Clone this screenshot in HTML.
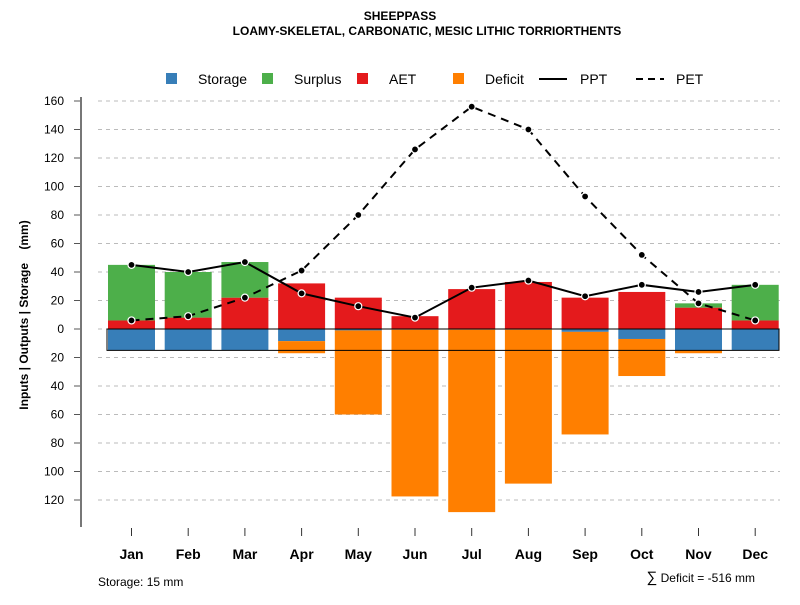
<!DOCTYPE html>
<html><head><meta charset="utf-8"><style>
body{margin:0;background:#fff;font-family:"Liberation Sans",sans-serif}
</style></head><body>
<svg id="c" width="800" height="600" xmlns="http://www.w3.org/2000/svg" font-family="Liberation Sans, sans-serif">
<text x="400" y="20" text-anchor="middle" font-size="12" font-weight="bold">SHEEPPASS</text>
<text x="427" y="35" text-anchor="middle" font-size="12" font-weight="bold">LOAMY-SKELETAL, CARBONATIC, MESIC LITHIC TORRIORTHENTS</text>
<g font-size="14">
<rect x="166" y="73" width="11" height="11" fill="#377EB8"/><text x="198" y="84">Storage</text>
<rect x="262" y="73" width="11" height="11" fill="#4DAF4A"/><text x="294" y="84">Surplus</text>
<rect x="357" y="73" width="11" height="11" fill="#E41A1C"/><text x="389" y="84">AET</text>
<rect x="453" y="73" width="11" height="11" fill="#FF7F00"/><text x="485" y="84">Deficit</text>
<line x1="539" y1="79" x2="567" y2="79" stroke="#000" stroke-width="2"/><text x="580" y="84">PPT</text>
<line x1="636" y1="79" x2="664" y2="79" stroke="#000" stroke-width="2" stroke-dasharray="7,5"/><text x="676" y="84">PET</text>
</g>
<g id="grid"></g><g id="bars"></g><g id="lines"></g><g id="axes"></g>
<text transform="translate(28,315) rotate(-90)" text-anchor="middle" font-size="12" font-weight="bold">Inputs | Outputs | Storage&#160;&#160;&#160;&#160;(mm)</text>
<text x="98" y="586" font-size="12">Storage: 15 mm</text>
<text x="755" y="582" text-anchor="end" font-size="12"><tspan font-size="15">∑</tspan> Deficit = -516 mm</text>
</svg>
<script>
const months=["Jan","Feb","Mar","Apr","May","Jun","Jul","Aug","Sep","Oct","Nov","Dec"];
const aet=[6,8,22,32,22,9,28,33,22,26,15,6];
const surplus=[39,32,25,0,0,0,0,0,0,0,3,25];
const storage=[15,15,15,8.5,1,0.5,0.5,0.5,2,7,15,15];
const deficit=[0,0,0,8.5,59,117,128,108,72,26,2,0];
const ppt=[45,40,47,25,16,8,29,34,23,31,26,31];
const pet=[6,9,22,41,80,126,156,140,93,52,18,6];
const yTicks=[160,140,120,100,80,60,40,20,0,-20,-40,-60,-80,-100,-120];
const NS="http://www.w3.org/2000/svg";
const y=v=>329-v*1.425, x=i=>131.5+i*56.7, bw=47;
function mk(p,t,a){const e=document.createElementNS(NS,t);for(const k in a)e.setAttribute(k,a[k]);document.getElementById(p).appendChild(e);return e;}
yTicks.forEach(t=>{
 const g=mk('grid','line',{x1:98,x2:780,y1:y(t),y2:y(t),stroke:'#bbb','stroke-dasharray':'4,4'});
 
 
 const k=mk('axes','line',{x1:74,x2:81,y1:y(t),y2:y(t),stroke:'#555'});
 
 
 const l=mk('axes','text',{x:64,y:y(t)+4,'text-anchor':'end','font-size':12});
 l.textContent=Math.abs(t);
 
 
});
const ax=mk('axes','line',{x1:81,x2:81,y1:y(160)-4,y2:527,stroke:'#777','stroke-width':2});


months.forEach((m,i)=>{
 const cx=x(i),l=cx-bw/2;
 const s=mk('bars','rect',{x:l,y:y(0),width:bw,height:storage[i]*1.425,fill:'#377EB8'});
 
 
 const d=mk('bars','rect',{x:l,y:y(-storage[i]),width:bw,height:deficit[i]*1.425,fill:'#FF7F00'});
 
 
 const a=mk('bars','rect',{x:l,y:y(aet[i]),width:bw,height:aet[i]*1.425,fill:'#E41A1C'});
 
 
 const su=mk('bars','rect',{x:l,y:y(aet[i]+surplus[i]),width:bw,height:surplus[i]*1.425,fill:'#4DAF4A'});
 
 
 const tk=mk('axes','line',{x1:cx,x2:cx,y1:528,y2:536,stroke:'#333'});
 
 
 const tl=mk('axes','text',{x:cx,y:559,'text-anchor':'middle','font-size':14,'font-weight':'bold'});
 tl.textContent=m;
 
 
});
const fr=mk('bars','rect',{x:107,y:y(0),width:672,height:15*1.425,fill:'none',stroke:'#000','stroke-width':1});


function series(vals,dash,name){
 const p=mk('lines','polyline',{points:vals.map((v,i)=>x(i)+','+y(v)).join(' '),fill:'none',stroke:'#000','stroke-width':2,'stroke-dasharray':dash});
 
 
 vals.forEach((v,i)=>{
  const c=mk('lines','circle',{cx:x(i),cy:y(v),r:3.5,fill:'#000',stroke:'#fff','stroke-width':1.2});
  
  
 });
}
series(pet,'8,6','pet');
series(ppt,'none','ppt');
</script>
</body></html>
